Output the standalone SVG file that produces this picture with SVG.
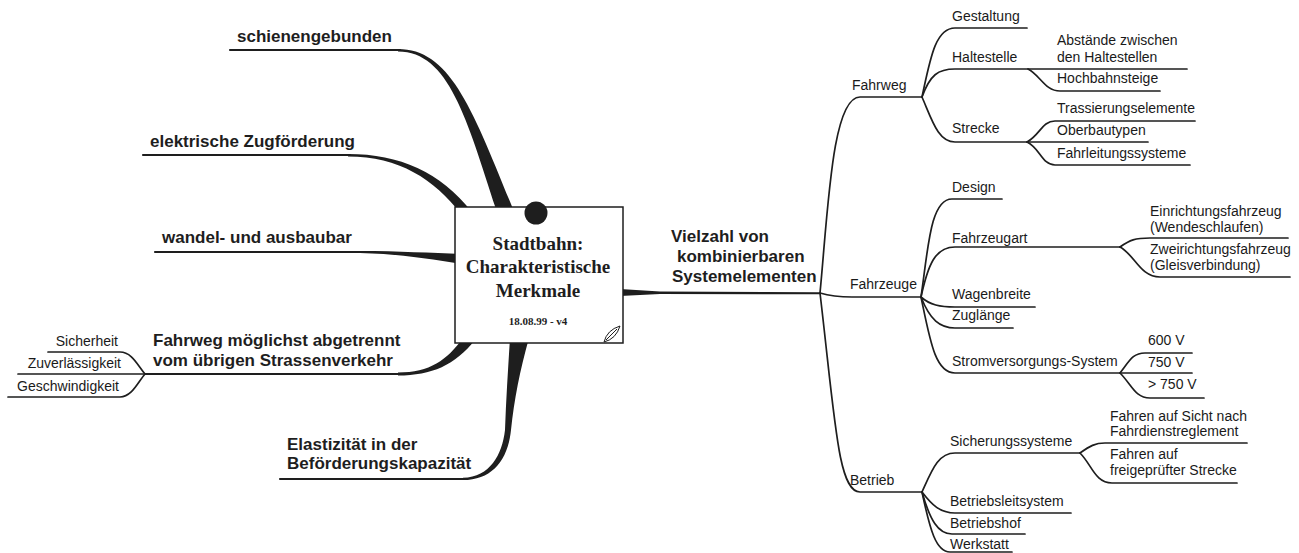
<svg xmlns="http://www.w3.org/2000/svg" width="1299" height="553" viewBox="0 0 1299 553">
  <style>
    .ln { fill: none; stroke: #1e1e1e; stroke-width: 1.7; stroke-linecap: round; }
    .lnl { fill: none; stroke: #1e1e1e; stroke-width: 2.2; stroke-linecap: round; }
    .taper { fill: #1e1e1e; stroke: none; }
    .t { font-family: "Liberation Sans", Arial, sans-serif; font-size: 14px; fill: #1a1a1a; }
    .tb { font-family: "Liberation Sans", Arial, sans-serif; font-size: 17px; font-weight: bold; fill: #1e1e1e; }
    .title { font-family: "Liberation Serif", "Times New Roman", serif; font-size: 19px; font-weight: bold; fill: #1e1e1e; text-anchor: middle; }
    .date { font-family: "Liberation Serif", "Times New Roman", serif; font-size: 11px; font-weight: bold; fill: #1e1e1e; text-anchor: middle; }
  </style>
  <rect width="1299" height="553" fill="#fff"/>

  <!-- connectors -->
  <g id="connectors">
    <!-- left main branches (tapered towards the centre) -->
    <path class="lnl" d="M 230 50 L 400 50"/>
    <path class="taper" d="M 398 49 C 450 49, 472 108, 513 209 L 496 209 C 467 120, 449 51.5, 398 51.5 Z"/>

    <path class="lnl" d="M 143 155 L 350 155"/>
    <path class="taper" d="M 348 154 C 400 154, 440 172, 472 212 L 461 214 C 434 179, 399 156.5, 348 156.5 Z"/>

    <path class="lnl" d="M 155 252 L 362 252"/>
    <path class="taper" d="M 360 251 C 400 251, 430 253, 462 254 L 462 264 C 430 259, 400 254, 360 253 Z"/>

    <path class="lnl" d="M 145 374 L 400 374"/>
    <path class="taper" d="M 398 375.5 C 432 375.5, 455 365, 475 340 L 463 338 C 447 360, 430 372.5, 398 372.5 Z"/>

    <path class="lnl" d="M 280 479 L 465 479"/>
    <path class="taper" d="M 463 480 C 492 480, 508 460, 511 430 C 514 400, 520 370, 529 338 L 510 338 C 508 370, 506 400, 505 430 C 502 455, 490 477, 463 477.8 Z"/>

    <!-- left sub-branches -->
    <path class="ln" d="M 48 352 L 120 352 C 132 352, 138 366, 145 374"/>
    <path class="ln" d="M 18 374 L 145 374"/>
    <path class="ln" d="M 8 397 L 120 397 C 132 397, 138 382, 145 374"/>

    <!-- right main branch -->
    <path class="taper" d="M 620 289 L 660 291.5 L 820 292.3 L 820 294.3 L 660 294 L 620 296 Z"/>

    <!-- Fahrweg -->
    <path class="ln" d="M 820 293 C 828 210, 832 97, 860 97 L 922 97"/>
    <path class="ln" d="M 922 97 C 930 60, 935 28, 955 28 L 1027 28"/>
    <path class="ln" d="M 922 97 C 930 75, 938 69, 955 69 L 1187 69"/>
    <path class="ln" d="M 922 97 C 932 120, 938 142, 955 142 L 1148 142"/>
    <path class="ln" d="M 1028 69 C 1040 75, 1045 91, 1060 91 L 1160 91"/>
    <path class="ln" d="M 1027 142 C 1040 135, 1042 121, 1055 121 L 1195 121"/>
    <path class="ln" d="M 1027 142 C 1040 148, 1042 165, 1055 165 L 1190 165"/>

    <!-- Fahrzeuge -->
    <path class="ln" d="M 820 293 C 830 296, 840 297, 852 297 L 921 297"/>
    <path class="ln" d="M 921 297 C 928 250, 930 199, 952 199 L 1002 199"/>
    <path class="ln" d="M 921 297 C 928 265, 935 247, 955 247 L 1120 247"/>
    <path class="ln" d="M 921 297 C 930 305, 940 307, 955 307 L 1035 307"/>
    <path class="ln" d="M 921 297 C 930 320, 940 328, 955 328 L 1013 328"/>
    <path class="ln" d="M 921 297 C 930 340, 935 373, 955 373 L 1192 373"/>
    <path class="ln" d="M 1120 247 C 1130 240, 1135 238, 1150 238 L 1288 238"/>
    <path class="ln" d="M 1120 247 C 1135 255, 1140 277, 1160 277 L 1290 277"/>
    <path class="ln" d="M 1120 373 C 1130 360, 1133 353, 1145 353 L 1192 353"/>
    <path class="ln" d="M 1120 373 C 1132 385, 1135 398, 1150 398 L 1204 398"/>

    <!-- Betrieb -->
    <path class="ln" d="M 820 293 C 835 420, 838 492, 860 492 L 922 492"/>
    <path class="ln" d="M 922 492 C 932 470, 938 453, 955 453 L 1080 453"/>
    <path class="ln" d="M 922 492 C 932 505, 940 513, 955 513 L 1071 513"/>
    <path class="ln" d="M 922 492 C 930 520, 938 534, 952 534 L 1025 534"/>
    <path class="ln" d="M 922 492 C 930 530, 936 552, 950 552 L 1012 552"/>
    <path class="ln" d="M 1080 453 C 1090 446, 1095 443, 1105 443 L 1247 443"/>
    <path class="ln" d="M 1080 453 C 1092 465, 1095 483, 1112 483 L 1237 483"/>
  </g>

  <!-- central topic -->
  <g id="centre">
    <rect x="455" y="207" width="168" height="136" fill="#fff" stroke="#1e1e1e" stroke-width="1.5"/>
    <circle cx="536" cy="213" r="11.5" fill="#1e1e1e"/>
    <text class="title" x="538" y="250">Stadtbahn:</text>
    <text class="title" x="538" y="273">Charakteristische</text>
    <text class="title" x="538" y="297">Merkmale</text>
    <text class="date" x="538" y="325">18.08.99 - v4</text>
    <path d="M 604 342 Q 607 330 620 326 Q 616 339 604 342 Z M 606 340 L 617 329" fill="none" stroke="#1e1e1e" stroke-width="1"/>
  </g>

  <!-- left branches -->
  <g id="schienengebunden"><text class="tb" x="237" y="42">schienengebunden</text></g>
  <g id="zugfoerderung"><text class="tb" x="150" y="147">elektrische Zugförderung</text></g>
  <g id="ausbaubar"><text class="tb" x="162" y="243">wandel- und ausbaubar</text></g>
  <g id="fahrweg-abgetrennt">
    <text class="tb" x="153" y="346">Fahrweg möglichst abgetrennt</text>
    <text class="tb" x="153" y="366">vom übrigen Strassenverkehr</text>
  </g>
  <g id="sicherheit"><text class="t" x="118" y="346" text-anchor="end">Sicherheit</text></g>
  <g id="zuverlaessigkeit"><text class="t" x="121" y="368" text-anchor="end">Zuverlässigkeit</text></g>
  <g id="geschwindigkeit"><text class="t" x="119" y="391" text-anchor="end">Geschwindigkeit</text></g>
  <g id="elastizitaet">
    <text class="tb" x="287" y="450">Elastizität in der</text>
    <text class="tb" x="287" y="469">Beförderungskapazität</text>
  </g>

  <!-- right branch -->
  <g id="systemelemente">
    <text class="tb" x="671" y="242">Vielzahl von</text>
    <text class="tb" x="677" y="262">kombinierbaren</text>
    <text class="tb" x="672" y="282">Systemelementen</text>
  </g>

  <g id="fahrweg"><text class="t" x="852" y="90">Fahrweg</text></g>
  <g id="gestaltung"><text class="t" x="952" y="21">Gestaltung</text></g>
  <g id="haltestelle"><text class="t" x="952" y="62">Haltestelle</text></g>
  <g id="abstaende">
    <text class="t" x="1057" y="45">Abstände zwischen</text>
    <text class="t" x="1057" y="62">den Haltestellen</text>
  </g>
  <g id="hochbahnsteige"><text class="t" x="1057" y="83">Hochbahnsteige</text></g>
  <g id="strecke"><text class="t" x="952" y="133">Strecke</text></g>
  <g id="trassierung"><text class="t" x="1057" y="113">Trassierungselemente</text></g>
  <g id="oberbau"><text class="t" x="1057" y="135">Oberbautypen</text></g>
  <g id="fahrleitung"><text class="t" x="1057" y="158">Fahrleitungssysteme</text></g>

  <g id="fahrzeuge"><text class="t" x="850" y="289">Fahrzeuge</text></g>
  <g id="design"><text class="t" x="952" y="192">Design</text></g>
  <g id="fahrzeugart"><text class="t" x="952" y="243">Fahrzeugart</text></g>
  <g id="einrichtung">
    <text class="t" x="1150" y="216">Einrichtungsfahrzeug</text>
    <text class="t" x="1150" y="232">(Wendeschlaufen)</text>
  </g>
  <g id="zweirichtung">
    <text class="t" x="1150" y="254">Zweirichtungsfahrzeug</text>
    <text class="t" x="1150" y="270">(Gleisverbindung)</text>
  </g>
  <g id="wagenbreite"><text class="t" x="952" y="299">Wagenbreite</text></g>
  <g id="zuglaenge"><text class="t" x="952" y="320">Zuglänge</text></g>
  <g id="stromversorgung"><text class="t" x="952" y="366">Stromversorgungs-System</text></g>
  <g id="v600"><text class="t" x="1148" y="345">600 V</text></g>
  <g id="v750"><text class="t" x="1148" y="367">750 V</text></g>
  <g id="v750plus"><text class="t" x="1148" y="389">&gt; 750 V</text></g>

  <g id="betrieb"><text class="t" x="850" y="485">Betrieb</text></g>
  <g id="sicherung"><text class="t" x="950" y="446">Sicherungssysteme</text></g>
  <g id="sicht">
    <text class="t" x="1110" y="421">Fahren auf Sicht nach</text>
    <text class="t" x="1110" y="436">Fahrdienstreglement</text>
  </g>
  <g id="freigeprueft">
    <text class="t" x="1110" y="459">Fahren auf</text>
    <text class="t" x="1110" y="475">freigeprüfter Strecke</text>
  </g>
  <g id="leitsystem"><text class="t" x="950" y="506">Betriebsleitsystem</text></g>
  <g id="betriebshof"><text class="t" x="950" y="528">Betriebshof</text></g>
  <g id="werkstatt"><text class="t" x="950" y="549">Werkstatt</text></g>
</svg>
